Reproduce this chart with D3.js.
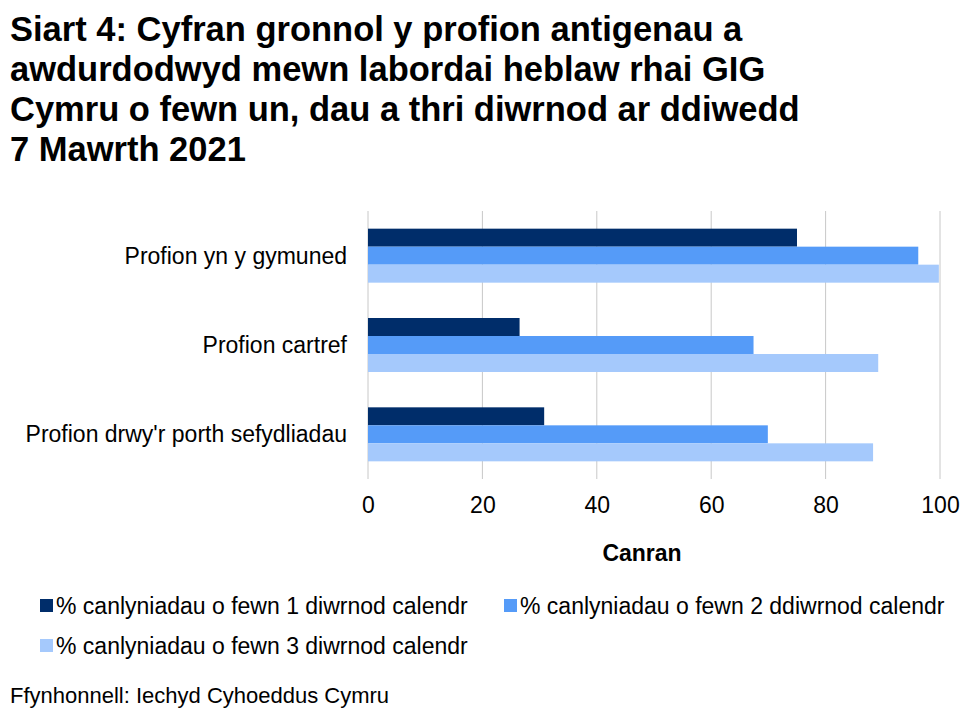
<!DOCTYPE html>
<html><head><meta charset="utf-8">
<script src="https://cdn.jsdelivr.net/npm/d3@7"></script>
<style>body{margin:0;background:#fff;font-family:"Liberation Sans",Arial,sans-serif}</style>
</head><body><svg id="chart"></svg>
<script>
var categories = ["Profion yn y gymuned", "Profion cartref", "Profion drwy'r porth sefydliadau"];
var seriesNames = ["% canlyniadau o fewn 1 diwrnod calendr", "% canlyniadau o fewn 2 ddiwrnod calendr", "% canlyniadau o fewn 3 diwrnod calendr"];
var day1 = [75.0, 26.5, 30.8];
var day2 = [96.2, 67.4, 69.9];
var day3 = [99.8, 89.2, 88.3];
var ticks = [0, 20, 40, 60, 80, 100];
var colors = ["#002d6a", "#559bf8", "#a5c9fc"];

var svg = d3.select("#chart").attr("width", 979).attr("height", 717);
var titleLines = ["Siart 4: Cyfran gronnol y profion antigenau a", "awdurdodwyd mewn labordai heblaw rhai GIG", "Cymru o fewn un, dau a thri diwrnod ar ddiwedd", "7 Mawrth 2021"];
svg.selectAll(".t").data(titleLines).enter().append("text")
  .attr("x", 10).attr("y", function(d, i) { return 41 + i * 40; })
  .attr("font-size", 34.5).attr("font-weight", "bold").text(function(d) { return d; });

var x = d3.scaleLinear().domain([0, 100]).range([368, 940]);
var y = d3.scaleBand().domain(categories).range([211, 479]);
var sub = d3.scaleBand().domain([0, 1, 2]).range([0, 54]);

svg.append("g").selectAll("line").data(ticks).enter().append("line")
  .attr("x1", function(d) { return x(d); }).attr("x2", function(d) { return x(d); })
  .attr("y1", 211).attr("y2", 479).attr("stroke", "#c8c8c8");

var series = [day1, day2, day3];
series.forEach(function(vals, s) {
  svg.append("g").selectAll("rect").data(vals).enter().append("rect")
    .attr("x", x(0))
    .attr("y", function(d, i) { return y(categories[i]) + (y.bandwidth() - 54) / 2 + sub(s); })
    .attr("width", function(d) { return x(d) - x(0); })
    .attr("height", sub.bandwidth())
    .attr("fill", colors[s]);
});

svg.append("g").selectAll("text").data(categories).enter().append("text")
  .attr("x", 347).attr("y", function(d) { return y(d) + y.bandwidth() / 2 + 8; })
  .attr("text-anchor", "end").attr("font-size", 23).text(function(d) { return d; });

var xAxis = d3.axisBottom(x).tickValues(ticks).tickSize(0).tickPadding(18);
var gx = svg.append("g").attr("transform", "translate(0,479)").call(xAxis);
gx.select(".domain").remove();
gx.selectAll("text").attr("font-size", 23).attr("font-family", "Liberation Sans, Arial, sans-serif").attr("fill", "#000");

svg.append("text").attr("x", 642).attr("y", 561).attr("text-anchor", "middle")
  .attr("font-size", 23).attr("font-weight", "bold").text("Canran");

var legendPos = [[40, 606], [504, 606], [40, 646]];
seriesNames.forEach(function(n, i) {
  svg.append("rect").attr("x", legendPos[i][0]).attr("y", legendPos[i][1] - 7).attr("width", 13).attr("height", 13).attr("fill", colors[i]);
  svg.append("text").attr("x", legendPos[i][0] + 16).attr("y", legendPos[i][1] + 8).attr("font-size", 23).text(n);
});

svg.append("text").attr("x", 10).attr("y", 703).attr("font-size", 22).text("Ffynhonnell: Iechyd Cyhoeddus Cymru");
</script></body></html>
